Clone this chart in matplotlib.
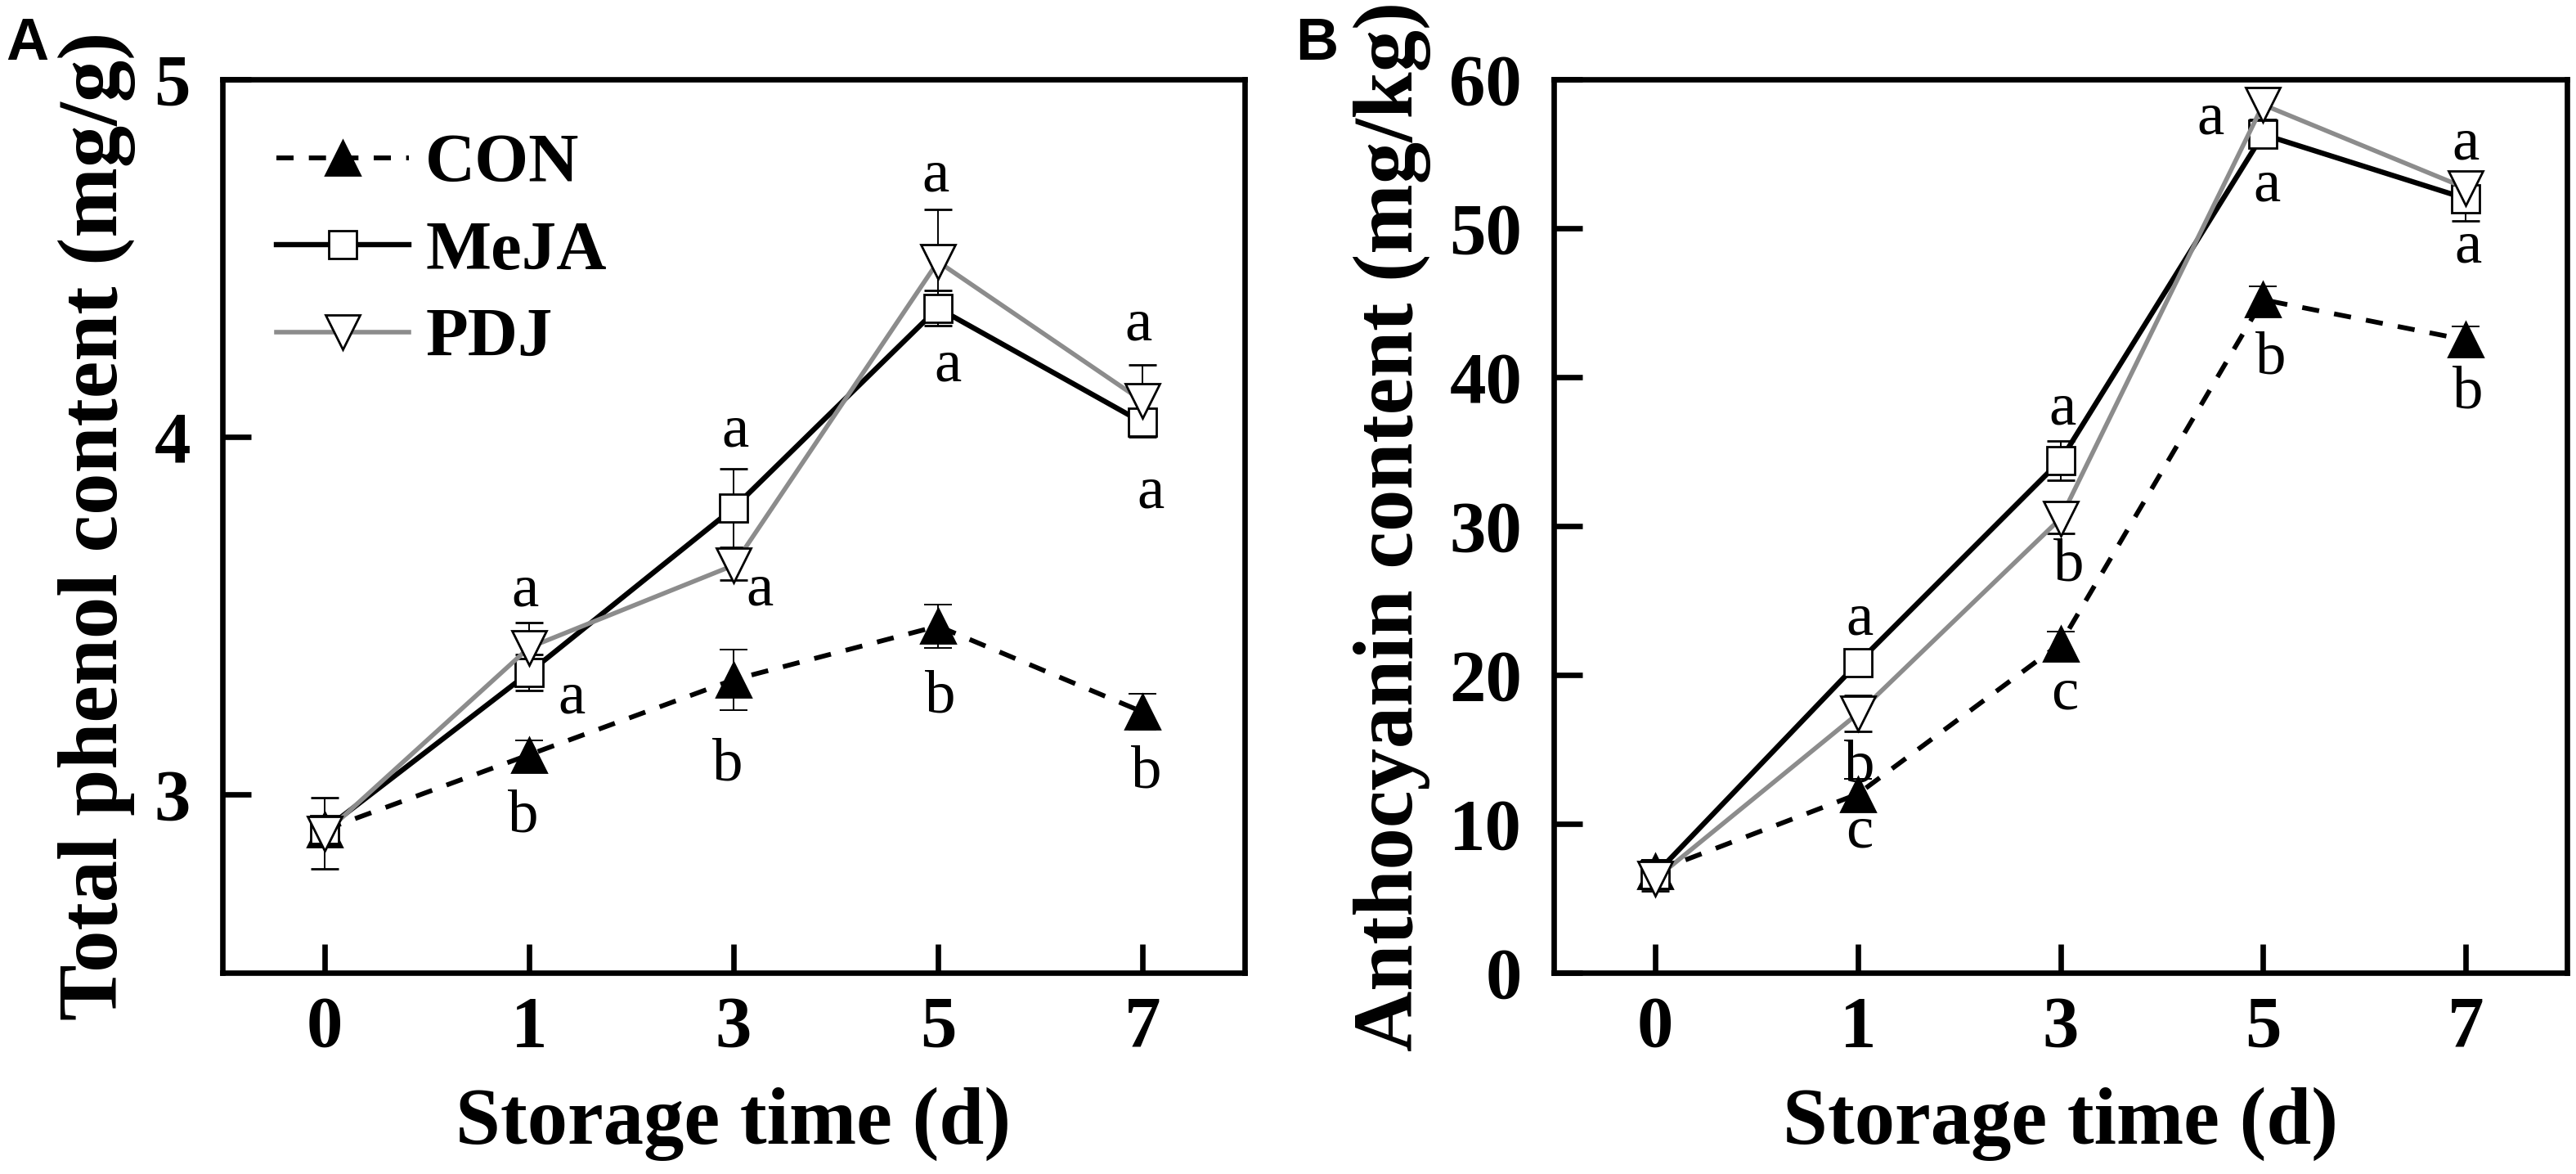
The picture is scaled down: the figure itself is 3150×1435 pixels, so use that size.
import matplotlib.pyplot as plt
import numpy as np

plt.rcParams.update({
    'font.family': 'Liberation Serif',
    'font.weight': 'bold',
    'axes.labelweight': 'bold',
    'axes.linewidth': 2.4,
})

days = ['0', '1', '3', '5', '7']

# A: total phenol content (mg/g)
phenol_con = [2.90, 3.11, 3.32, 3.47, 3.23]
phenol_con_err = [0.03, 0.04, 0.085, 0.06, 0.05]
phenol_meja = [2.90, 3.34, 3.80, 4.36, 4.04]
phenol_meja_err = [0.03, 0.05, 0.11, 0.05, 0.03]
phenol_pdj = [2.89, 3.41, 3.64, 4.49, 4.10]
phenol_pdj_err = [0.10, 0.07, 0.04, 0.145, 0.10]
# significance letters (x index, y, letter)
phenol_letters = [(0.98, 3.568, 'a'), (1.21, 3.267, 'a'), (0.97, 2.936, 'b'),
                  (2.01, 4.013, 'a'), (2.13, 3.57, 'a'), (1.97, 3.08, 'b'),
                  (2.99, 4.729, 'a'), (3.05, 4.196, 'a'), (3.01, 3.27, 'b'),
                  (3.98, 4.311, 'a'), (4.04, 3.841, 'a'), (4.02, 3.06, 'b')]

# B: anthocyanin content (mg/kg)
antho_con = [6.8, 12.0, 22.1, 45.2, 42.5]
antho_con_err = [0.8, 1.0, 0.8, 0.9, 0.9]
antho_meja = [6.6, 20.8, 34.4, 56.3, 52.0]
antho_meja_err = [0.6, 0.8, 1.3, 0.8, 1.5]
antho_pdj = [6.3, 17.4, 30.5, 58.3, 52.7]
antho_pdj_err = [0.8, 1.2, 1.0, 1.0, 0.8]
antho_letters = [(1.01, 23.7, 'a'), (1.01, 13.8, 'b'), (1.01, 9.4, 'c'),
                 (2.01, 37.8, 'a'), (2.04, 27.3, 'b'), (2.02, 18.7, 'c'),
                 (2.74, 57.3, 'a'), (3.02, 52.8, 'a'), (3.04, 41.2, 'b'),
                 (4.00, 55.6, 'a'), (4.01, 48.7, 'a'), (4.01, 38.9, 'b')]


def draw_panel(ax, con, con_err, meja, meja_err, pdj, pdj_err, letters,
               ylabel, ylim, yticks, legend=False):
    x = np.arange(len(days))
    eb = dict(ecolor='black', elinewidth=0.7, capsize=6, capthick=0.7)
    c1 = ax.errorbar(x, con, yerr=con_err, color='black', ls=(0, (3.6, 3.2)),
                     lw=2.1, marker='^', ms=15, mfc='black', mec='black',
                     label='CON', **eb)
    c2 = ax.errorbar(x, meja, yerr=meja_err, color='black', ls='-', lw=2.3,
                     marker='s', ms=12, mfc='white', mec='black', mew=1.0,
                     label='MeJA', **eb)
    c3 = ax.errorbar(x, pdj, yerr=pdj_err, color='#8c8c8c', ls='-', lw=2.0,
                     marker='v', ms=15, mfc='white', mec='black', mew=1.0,
                     label='PDJ', **eb)
    # little centre dots of the open markers
    ax.plot(x, meja, ls='none', marker='.', ms=2, color='#555555')
    ax.plot(x, pdj, ls='none', marker='.', ms=2, color='#555555')

    for xi, yi, s in letters:
        ax.text(xi, yi, s, ha='center', va='center', fontsize=27,
                fontweight='normal')

    ax.set_xlim(-0.5, 4.5)
    ax.set_ylim(*ylim)
    ax.set_xticks(x)
    ax.set_xticklabels(days)
    ax.set_yticks(yticks)
    ax.tick_params(direction='in', length=12.5, width=2.4, labelsize=32)
    ax.tick_params(axis='x', pad=10)
    ax.tick_params(axis='y', pad=14)
    ax.set_xlabel('Storage time (d)', fontsize=35.5, labelpad=11)
    ax.set_ylabel(ylabel, fontsize=37, labelpad=8)

    if legend:
        ax.legend(handles=[c1[0], c2[0], c3[0]], labels=['CON', 'MeJA', 'PDJ'],
                  loc='upper left', bbox_to_anchor=(0.0528, 0.9396),
                  frameon=False, fontsize=30.5, borderpad=0, borderaxespad=0,
                  handlelength=1.91, handletextpad=0.24, labelspacing=0.345)


fig = plt.figure(figsize=(15.75, 7.175), dpi=200)
ax1 = fig.add_axes([0.08635, 0.17143, 0.3968, 0.76098])
ax2 = fig.add_axes([0.6032, 0.17143, 0.3933, 0.76098])

draw_panel(ax1, phenol_con, phenol_con_err, phenol_meja, phenol_meja_err,
           phenol_pdj, phenol_pdj_err, phenol_letters,
           'Total phenol content (mg/g)', (2.5, 5), [3, 4, 5], legend=True)
draw_panel(ax2, antho_con, antho_con_err, antho_meja, antho_meja_err,
           antho_pdj, antho_pdj_err, antho_letters,
           'Anthocyanin content (mg/kg)', (0, 60), np.arange(0, 61, 10))

fig.text(0.0022, 0.986, 'A', family='Liberation Sans', fontweight='bold',
         fontsize=26, va='top', ha='left')
fig.text(0.503, 0.986, 'B', family='Liberation Sans', fontweight='bold',
         fontsize=26, va='top', ha='left')

fig.savefig('out.png', dpi=200)
